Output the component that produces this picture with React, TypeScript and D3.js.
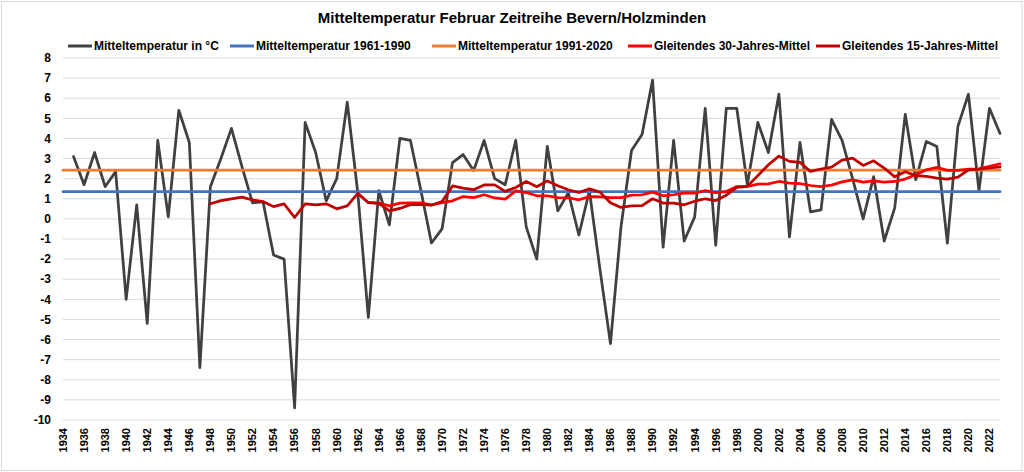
import React from 'react';
import * as d3 from 'd3';

const title = 'Mitteltemperatur Februar Zeitreihe Bevern/Holzminden';

const years = d3.range(1934, 2024);

// Februar-Mitteltemperatur in °C (1934 ohne Wert)
const temperature: (number | null)[] = [
  null, 3.1, 1.7, 3.3, 1.6, 2.35, -4.0, 0.7, -5.2, 3.9,
  0.1, 5.4, 3.8, -7.4, 1.6, 3.0, 4.5, 2.6, 0.8, 0.85,
  -1.8, -2.0, -9.4, 4.8, 3.3, 0.9, 2.0, 5.8, 1.3, -4.9,
  1.4, -0.3, 4.0, 3.9, 1.4, -1.2, -0.5, 2.8, 3.2, 2.4,
  3.9, 2.0, 1.7, 3.9, -0.4, -2.0, 3.6, 0.4, 1.3, -0.8,
  1.4, -2.5, -6.2, -0.4, 3.4, 4.2, 6.9, -1.4, 3.9, -1.1,
  0.1, 5.5, -1.3, 5.5, 5.5, 1.7, 4.8, 3.3, 6.2, -0.9,
  3.8, 0.35, 0.45, 4.95, 3.9, 2.0, 0.0, 2.1, -1.1, 0.55,
  5.2, 1.95, 3.85, 3.6, -1.2, 4.6, 6.2, 1.4, 5.5, 4.25,
];

const mean1961_1990 = 1.35;
const mean1991_2020 = 2.42;

// Gleitendes 30-Jahres-Mittel, ab 1963
const firstYear30 = 1963;
const moving30 = [
  0.82, 0.78, 0.65, 0.78, 0.8, 0.8, 0.7, 0.81, 0.9, 1.11,
  1.06, 1.2, 1.04, 0.98, 1.39, 1.31, 1.15, 1.15, 1.06, 1.05,
  0.95, 1.11, 1.1, 1.06, 1.06, 1.18, 1.2, 1.33, 1.15, 1.2,
  1.28, 1.28, 1.41, 1.31, 1.36, 1.61, 1.61, 1.73, 1.74, 1.86,
  1.78, 1.75, 1.66, 1.61, 1.68, 1.84, 1.94, 1.83, 1.89, 1.83,
  1.86, 1.98, 2.19, 2.44, 2.56, 2.41, 2.41, 2.47, 2.49, 2.61,
  2.74,
];

// Gleitendes 15-Jahres-Mittel, ab 1948
const firstYear15 = 1948;
const moving15 = [
  0.75, 0.91, 1.0, 1.08, 0.94, 0.86, 0.61, 0.75, 0.07, 0.75,
  0.7, 0.75, 0.5, 0.65, 1.27, 0.81, 0.77, 0.4, 0.52, 0.71,
  0.71, 0.68, 0.86, 1.64, 1.53, 1.45, 1.69, 1.69, 1.37, 1.56,
  1.86, 1.6, 1.89, 1.65, 1.45, 1.31, 1.49, 1.33, 0.8, 0.57,
  0.65, 0.66, 1.0, 0.79, 0.78, 0.7, 0.88, 1.0, 0.91, 1.18,
  1.57, 1.62, 2.15, 2.69, 3.12, 2.86, 2.81, 2.36, 2.48, 2.57,
  2.92, 3.02, 2.66, 2.89, 2.53, 2.09, 2.34, 2.15, 2.12, 2.03,
  1.98, 2.08, 2.44, 2.47, 2.53, 2.58,
];

const yTicks = d3.range(-10, 9);
const xTicks = years.filter((y) => y % 2 === 0);

const legendItems = [
  { label: 'Mitteltemperatur in °C', color: '#404040', x: 68 },
  { label: 'Mitteltemperatur 1961-1990', color: '#4472C4', x: 230 },
  { label: 'Mitteltemperatur 1991-2020', color: '#ED7D31', x: 432 },
  { label: 'Gleitendes 30-Jahres-Mittel', color: '#FF0000', x: 628 },
  { label: 'Gleitendes 15-Jahres-Mittel', color: '#C00000', x: 816 },
];

const W = 1024;
const H = 472;
const plot = { left: 63, right: 1000, top: 58, bottom: 420 };

type Pt = { year: number; value: number | null };

export default function App() {
  const x = d3.scaleLinear().domain([1934, 2023]).range([plot.left, plot.right]);
  const y = d3.scaleLinear().domain([-10, 8]).range([plot.bottom, plot.top]);

  const line = d3
    .line<Pt>()
    .defined((d) => d.value !== null)
    .x((d) => x(d.year))
    .y((d) => y(d.value as number));

  const tempPts: Pt[] = years.map((yr, i) => ({ year: yr, value: temperature[i] }));
  const p6190: Pt[] = years.map((yr) => ({ year: yr, value: mean1961_1990 }));
  const p9120: Pt[] = years.map((yr) => ({ year: yr, value: mean1991_2020 }));
  const p30: Pt[] = moving30.map((v, i) => ({ year: firstYear30 + i, value: v }));
  const p15: Pt[] = moving15.map((v, i) => ({ year: firstYear15 + i, value: v }));

  const series = [
    { pts: tempPts, color: '#404040' },
    { pts: p6190, color: '#4472C4' },
    { pts: p9120, color: '#ED7D31' },
    { pts: p30, color: '#FF0000' },
    { pts: p15, color: '#C00000' },
  ];

  const font = '"Liberation Sans", Arial, sans-serif';

  return (
    <div style={{ position: 'absolute', left: 0, top: 0 }}>
      <svg width={W} height={H} style={{ display: 'block', background: '#fff' }} fontFamily={font}>
        <rect x={1.5} y={1.5} width={W - 3.5} height={H - 3} fill="#fff" stroke="#d9d9d9" />
        <text x={512} y={23} textAnchor="middle" fontSize={15} fontWeight="bold" fill="#000">
          {title}
        </text>

        {legendItems.map((it) => (
          <g key={it.label}>
            <line x1={it.x} x2={it.x + 24} y1={46} y2={46} stroke={it.color} strokeWidth={3} />
            <text x={it.x + 26} y={50} fontSize={12} fontWeight="bold" fill="#000">
              {it.label}
            </text>
          </g>
        ))}

        {yTicks.map((t) => (
          <g key={t}>
            <line x1={plot.left} x2={plot.right} y1={y(t)} y2={y(t)} stroke="#d9d9d9" strokeWidth={1} />
            <text x={51} y={y(t)} dy="0.35em" textAnchor="end" fontSize={12} fontWeight="bold" fill="#000">
              {t}
            </text>
          </g>
        ))}

        {xTicks.map((t) => (
          <text
            key={t}
            transform={`translate(${x(t)},428) rotate(-90)`}
            textAnchor="end"
            dy="0.35em"
            fontSize={11}
            fontWeight="bold"
            fill="#000"
          >
            {t}
          </text>
        ))}

        {series.map((s, i) => (
          <path
            key={i}
            d={line(s.pts) || ''}
            fill="none"
            stroke={s.color}
            strokeWidth={2.75}
            strokeLinejoin="round"
            strokeLinecap="round"
          />
        ))}
      </svg>
    </div>
  );
}
